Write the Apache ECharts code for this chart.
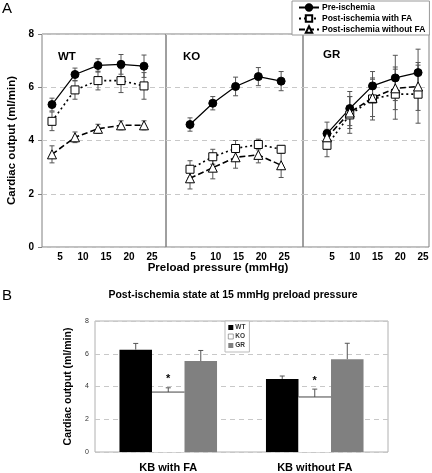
<!DOCTYPE html>
<html>
<head>
<meta charset="utf-8">
<script src="https://cdn.jsdelivr.net/npm/echarts@6/dist/echarts.min.js"></script>
<style>html,body{margin:0;padding:0;background:#fff}#c{width:432px;height:473px}</style>
</head>
<body>
<div id="c"></div>
<script>
// ---------- data ----------
const pressures = [5, 10, 15, 20, 25];
const panelNames = ['WT', 'KO', 'GR'];
const seriesNames = ['Pre-ischemia', 'Post-ischemia with FA', 'Post-ischemia without FA'];

const wtPre = [5.35, 6.48, 6.82, 6.86, 6.79];
const wtPreErr = [0.24, 0.24, 0.25, 0.37, 0.42];
const wtFA = [4.72, 5.90, 6.25, 6.25, 6.05];
const wtFAErr = [0.35, 0.35, 0.35, 0.45, 0.50];
const wtNoFA = [3.48, 4.12, 4.44, 4.57, 4.57];
const wtNoFAErr = [0.32, 0.20, 0.17, 0.17, 0.17];

const koPre = [4.60, 5.40, 6.03, 6.40, 6.23];
const koPreErr = [0.25, 0.25, 0.35, 0.34, 0.36];
const koFA = [2.92, 3.39, 3.70, 3.85, 3.67];
const koFAErr = [0.32, 0.28, 0.30, 0.20, 0.12];
const koNoFA = [2.58, 2.98, 3.37, 3.46, 3.07];
const koNoFAErr = [0.40, 0.42, 0.41, 0.30, 0.46];

const grPre = [4.26, 5.20, 6.05, 6.35, 6.55];
const grPreErr = [0.43, 0.64, 0.54, 0.85, 0.88];
const grFA = [3.82, 4.96, 5.56, 5.74, 5.74];
const grFAErr = [0.43, 0.69, 0.79, 0.94, 1.09];
const grNoFA = [4.12, 5.05, 5.60, 5.96, 6.03];
const grNoFAErr = [0.30, 0.60, 0.70, 0.80, 0.90];

const groups = ['KB with FA', 'KB without FA'];
const wtBar = [6.25, 4.46];
const wtBarErr = [0.38, 0.18];
const koBar = [3.66, 3.36];
const koBarErr = [0.26, 0.48];
const grBar = [5.55, 5.67];
const grBarErr = [0.65, 0.97];
const koStars = ['*', '*'];

// ---------- build ----------
const FF = '"Liberation Sans", Arial, sans-serif';
const panels = [
  [[wtPre, wtPreErr], [wtFA, wtFAErr], [wtNoFA, wtNoFAErr]],
  [[koPre, koPreErr], [koFA, koFAErr], [koNoFA, koNoFAErr]],
  [[grPre, grPreErr], [grFA, grFAErr], [grNoFA, grNoFAErr]]
];
const gridsA = [
  {left: 42, top: 34, width: 124, height: 213},
  {left: 166, top: 34, width: 137, height: 213},
  {left: 303, top: 34, width: 126, height: 213}
];
const xRanges = [[2.83, 29.78], [-0.27, 29.8], [-0.27, 27.4]];
const labelPad = [16, 6, 10];

const lineStyles = [
  {type: 'solid', symbol: 'circle', fill: '#000', size: 8},
  {type: [2, 3], symbol: 'rect', fill: '#fff', size: 8},
  {type: [6, 3], symbol: 'triangle', fill: '#fff', size: 9}
];

const grid = gridsA.map(g => Object.assign({show: true, borderColor: '#808080', borderWidth: 1, backgroundColor: 'transparent'}, g));
grid.push({left: 95, top: 321, width: 293, height: 134, show: true, borderColor: '#b0b0b0', borderWidth: 1});

const xAxis = [], yAxis = [], series = [];
for (let p = 0; p < 3; p++) {
  xAxis.push({
    type: 'value', gridIndex: p, min: xRanges[p][0], max: xRanges[p][1],
    axisLine: {show: false}, axisTick: {show: false}, splitLine: {show: false},
    axisLabel: {customValues: pressures, fontFamily: FF, fontWeight: 'bold', fontSize: 10, color: '#000', margin: 5, padding: [0, 0, 0, labelPad[p]]}
  });
  yAxis.push({
    type: 'value', gridIndex: p, min: 0, max: 8, interval: 2,
    axisLine: {show: false},
    axisTick: {show: p === 0, length: 4, lineStyle: {color: '#808080'}},
    axisLabel: {show: p === 0, fontFamily: FF, fontWeight: 'bold', fontSize: 10, color: '#000', margin: 8},
    splitLine: {show: true, lineStyle: {color: '#c8c8c8', type: [5, 4], width: 1}},
    name: p === 0 ? 'Cardiac output (ml/min)' : '',
    nameLocation: 'middle', nameGap: 24,
    nameTextStyle: {fontFamily: FF, fontWeight: 'bold', fontSize: 11.5, color: '#000'}
  });
  for (let s = 0; s < 3; s++) {
    const vals = panels[p][s][0], errs = panels[p][s][1], st = lineStyles[s];
    series.push({
      type: 'custom', name: seriesNames[s] + ' err', xAxisIndex: p, yAxisIndex: p, z: 1,
      data: pressures.map((x, i) => [x, vals[i] - errs[i], vals[i] + errs[i]]),
      renderItem: function (params, api) {
        const lo = api.coord([api.value(0), api.value(1)]);
        const hi = api.coord([api.value(0), api.value(2)]);
        const w = 2.5;
        return {type: 'group', children: [
          {type: 'line', shape: {x1: lo[0], y1: lo[1], x2: hi[0], y2: hi[1]}, style: {stroke: '#555', lineWidth: 1}},
          {type: 'line', shape: {x1: lo[0] - w, y1: lo[1], x2: lo[0] + w, y2: lo[1]}, style: {stroke: '#555', lineWidth: 1}},
          {type: 'line', shape: {x1: hi[0] - w, y1: hi[1], x2: hi[0] + w, y2: hi[1]}, style: {stroke: '#555', lineWidth: 1}}
        ]};
      },
      silent: true
    });
    series.push({
      type: 'line', name: seriesNames[s], xAxisIndex: p, yAxisIndex: p, z: 3,
      data: pressures.map((x, i) => [x, vals[i]]),
      symbol: st.symbol, symbolSize: st.size, showAllSymbol: true,
      lineStyle: {color: '#000', width: s === 0 ? 1.2 : 1.6, type: st.type},
      itemStyle: {color: st.fill, borderColor: '#000', borderWidth: 1},
      emphasis: {disabled: true}, animation: false
    });
  }
}

// panel B
xAxis.push({
  type: 'category', gridIndex: 3, data: groups,
  axisLine: {show: false}, axisTick: {show: false},
  axisLabel: {fontFamily: FF, fontWeight: 'bold', fontSize: 11, color: '#000', margin: 10}
});
yAxis.push({
  type: 'value', gridIndex: 3, min: 0, max: 8, interval: 2,
  axisLine: {show: false}, axisTick: {show: false},
  axisLabel: {fontFamily: FF, fontSize: 7, color: '#333', margin: 6},
  splitLine: {show: true, lineStyle: {color: '#c8c8c8', type: [5, 4], width: 1}},
  name: 'Cardiac output (ml/min)', nameLocation: 'middle', nameGap: 21,
  nameTextStyle: {fontFamily: FF, fontWeight: 'bold', fontSize: 10.5, color: '#000'}
});
const barDefs = [
  {name: 'WT', vals: wtBar, errs: wtBarErr, color: '#000', off: -1},
  {name: 'KO', vals: koBar, errs: koBarErr, color: '#fff', off: 0, stars: koStars},
  {name: 'GR', vals: grBar, errs: grBarErr, color: '#808080', off: 1}
];
const BW = 0.222;
barDefs.forEach(b => {
  series.push({
    type: 'bar', name: b.name, xAxisIndex: 3, yAxisIndex: 3, data: b.vals,
    barWidth: (BW * 100) + '%', barGap: '0%',
    itemStyle: {color: b.color, borderWidth: 0},
    emphasis: {disabled: true}, animation: false
  });
});
barDefs.forEach(b => {
  series.push({
    type: 'custom', name: b.name + ' err', xAxisIndex: 3, yAxisIndex: 3, z: 5,
    data: b.vals.map((v, i) => [i, v, v + b.errs[i]]),
    renderItem: function (params, api) {
      const band = api.size([1, 0])[0];
      const base = api.coord([api.value(0), api.value(1)]);
      const top = api.coord([api.value(0), api.value(2)]);
      const x = base[0] + b.off * BW * band;
      const half = BW * band / 2;
      const w = 2.5;
      const col = '#555';
      const children = [
        {type: 'line', shape: {x1: x, y1: base[1], x2: x, y2: top[1]}, style: {stroke: col, lineWidth: 1}},
        {type: 'line', shape: {x1: x - w, y1: top[1], x2: x + w, y2: top[1]}, style: {stroke: col, lineWidth: 1}}
      ];
      if (b.name === 'KO') {
        children.push({type: 'line', shape: {x1: x - half, y1: base[1], x2: x + half, y2: base[1]}, style: {stroke: '#444', lineWidth: 1}});
      }
      if (b.stars) {
        children.push({type: 'text', style: {text: b.stars[params.dataIndex], x: x, y: top[1] - 3, textAlign: 'center', textVerticalAlign: 'bottom', font: 'bold 11px ' + FF, fill: '#000'}});
      }
      return {type: 'group', children: children};
    },
    silent: true
  });
});

const option = {
  animation: false,
  backgroundColor: '#fff',
  grid: grid,
  xAxis: xAxis,
  yAxis: yAxis,
  series: series,
  legend: [
    {
      data: seriesNames, orient: 'vertical', left: 292, top: 1,
      padding: [2, 4, 1, 6], itemGap: 2, itemWidth: 20, itemHeight: 8,
      borderColor: '#999', borderWidth: 1, backgroundColor: '#fff',
      textStyle: {fontFamily: FF, fontWeight: 'bold', fontSize: 8.5, color: '#000', padding: [0, 0, 0, -2]},
      selectedMode: false
    },
    {
      data: [
        {name: 'WT'},
        {name: 'KO', itemStyle: {borderColor: '#666', borderWidth: 0.6}},
        {name: 'GR'}
      ],
      orient: 'vertical', left: 225, top: 321,
      padding: [3, 4, 3, 3], itemGap: 2, itemWidth: 5, itemHeight: 5, icon: 'rect',
      borderColor: '#bbb', borderWidth: 1, backgroundColor: '#fff',
      textStyle: {fontFamily: FF, fontWeight: 'bold', fontSize: 6.5, color: '#333', padding: [0, 0, 0, -3]},
      selectedMode: false
    }
  ],
  graphic: [
    {type: 'text', left: 2, top: 1, style: {text: 'A', font: '15px ' + FF, fill: '#000'}},
    {type: 'text', left: 2, top: 288, style: {text: 'B', font: '15px ' + FF, fill: '#000'}},
    {type: 'text', x: 58, y: 57, style: {text: panelNames[0], font: 'bold 11.5px ' + FF, fill: '#000', textVerticalAlign: 'middle'}},
    {type: 'text', x: 183, y: 57, style: {text: panelNames[1], font: 'bold 11.5px ' + FF, fill: '#000', textVerticalAlign: 'middle'}},
    {type: 'text', x: 323, y: 55, style: {text: panelNames[2], font: 'bold 11.5px ' + FF, fill: '#000', textVerticalAlign: 'middle'}},
    {type: 'text', x: 218, y: 268, style: {text: 'Preload pressure (mmHg)', font: 'bold 11.5px ' + FF, fill: '#000', textAlign: 'center', textVerticalAlign: 'middle'}},
    {type: 'text', x: 233, y: 295, style: {text: 'Post-ischemia state at 15 mmHg preload pressure', font: 'bold 10.5px ' + FF, fill: '#000', textAlign: 'center', textVerticalAlign: 'middle'}}
  ]
};
const chart = echarts.init(document.getElementById('c'), null, {renderer: 'canvas'});
chart.setOption(option);
</script>
</body>
</html>
